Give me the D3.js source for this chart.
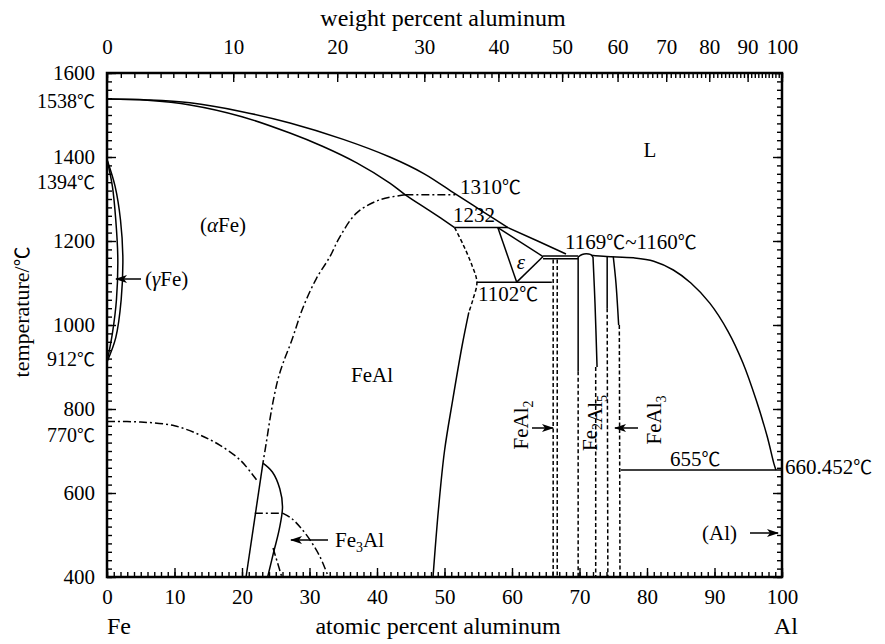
<!DOCTYPE html>
<html>
<head>
<meta charset="utf-8">
<script src="https://cdn.jsdelivr.net/npm/d3@7"></script>
<style>
body { margin: 0; background: #fff; }
text { font-family: "Liberation Serif", "Noto Sans CJK SC", serif; fill: #000; }
.deg { font-family: "Noto Sans CJK SC", sans-serif; font-size: 0.9em; }
</style>
</head>
<body>
<svg id="chart" width="885" height="644"></svg>
<script>
// FE-AL PHASE DIAGRAM

// tick labels
let atTicks = [0, 10, 20, 30, 40, 50, 60, 70, 80, 90, 100];
let wtTicks = [0, 10, 20, 30, 40, 50, 60, 70, 80, 90, 100];
let tempTicks = [400, 600, 800, 1000, 1200, 1400, 1600];
let specialTemps = [1538, 1394, 912, 770];

// boundaries, [atomic % Al, temperature C]
let liquidusFe = [[0,1538],[6,1536],[12.3,1529],[20,1508],[27.1,1481],[35,1442],[41.9,1400],[47,1360],[51.6,1312],[55.5,1272],[59.4,1232]];
let liquidusMid = [[59.4,1232],[63.8,1200],[68,1169]];
let solidusFe = [[0,1538],[6,1535],[12.3,1524],[20,1496],[27.1,1457],[32,1425],[37,1386],[41.9,1338],[44.2,1310],[48,1270],[51.5,1232]];
let peritectic1232 = [[51.5,1232],[59.4,1232]];
let eutectoid1102 = [[54.8,1102],[65.9,1102]];
let epsilonLeft = [[57.9,1232],[60.7,1102]];
let epsilonRight = [[60.7,1102],[64.6,1163]];
let epsilonTop = [[57.9,1232],[64.6,1163]];
let eutectic1163 = [[64.6,1164],[69.8,1164]];
let eutectic1157 = [[64.6,1158],[69.8,1158]];
let fe2al5Dome = [[69.8,1162],[70.4,1168],[71,1169.5],[71.6,1168],[72,1162]];
let fe2al5Left = [[69.8,1162],[69.8,890]];
let fe2al5Right = [[72,1162],[72.3,1050],[72.6,900]];
let liquidusAl = [[71.7,1166],[74,1163],[78,1160],[81,1152],[83.9,1131],[86.5,1100],[89.3,1052],[92,985],[94.2,910],[96.2,820],[97.8,735],[98.8,670],[99.1,655]];
let feal3Left = [[74.1,1163],[74.1,1040]];
let feal3Right = [[75,1163],[75.4,1100],[75.8,1000]];
let eutectic655 = [[76.1,655],[100,655]];
let fealRightSolid = [[53.6,1030],[52.6,950],[51.2,820],[50,700],[49.1,560],[48.3,400]];
let fe3alLeft = [[20.6,400],[23.1,671]];
let fe3alRight = [[23.1,671],[24.5,650],[25.6,610],[26,567],[25.5,512],[24.7,460],[23.8,400]];
let gammaOuter = [[0,1394],[1.2,1330],[2,1250],[2.35,1160],[2.1,1060],[1.3,970],[0,912]];
let gammaInner = [[0,1394],[0.8,1330],[1.3,1250],[1.6,1160],[1.4,1060],[0.8,980],[0,912]];

// dashed boundaries
let fealRightDashed = [[51.5,1232],[52.8,1190],[54,1145],[54.8,1102],[54.2,1060],[53.6,1030]];
let feal2Left = [[66.1,1156],[66.1,400]];
let feal2Right = [[66.7,1156],[66.7,400]];
let fe2al5LeftLow = [[69.8,890],[69.8,400]];
let fe2al5RightLow = [[72.4,900],[72.4,400]];
let feal3LeftLow = [[74.1,1040],[74.2,400]];
let feal3RightLow = [[75.9,1000],[76,400]];

// dash-dot (ordering / magnetic) lines
let tie1310 = [[44.2,1310],[51.6,1310]];
let orderA2B2 = [[44.2,1310],[40.4,1298],[37,1267],[34.5,1210],[33,1162],[31,1110],[29,1040],[27.3,960],[26.1,910],[25.3,869],[24.4,800],[23.6,720],[23.1,671]];
let curie = [[0,770],[5,769],[10,760],[13.8,738],[16.7,714],[19.7,679],[21.6,643],[22.4,626]];
let d03Line = [[21.9,552],[26,552]];
let d03B2 = [[26,552],[27.3,540],[28.6,519],[30,490],[31.5,450],[32.8,400]];
let d03Short = [[24.6,469],[25.9,400]];

let w = 885;
let h = 644;
let svg = d3.select("#chart");

let x = d3.scaleLinear().domain([0, 100]).range([107, 782]);
let y = d3.scaleLinear().domain([400, 1600]).range([577, 73]);

function wtToAt(wt) {
    if (wt <= 0) return 0;
    if (wt >= 100) return 100;
    let al = wt / 26.98;
    let fe = (100 - wt) / 55.845;
    return 100 * al / (al + fe);
}

let fontSize = "21px";
let titleSize = "24px";

function cleanAxis(g) {
    g.select(".domain").remove();
    g.attr("font-family", null).style("font-size", fontSize);
    g.selectAll("line").attr("stroke", "#000").attr("stroke-width", 1.4);
}

// write text, putting the degree sign in a wider font
function fillText(sel, txt) {
    txt.split(/(℃)/).forEach(part => {
        if (part === "") return;
        let t = sel.append("tspan").text(part);
        if (part === "℃") t.attr("class", "deg");
    });
    return sel;
}

// bottom axis, atomic percent
svg.append("g")
    .attr("transform", "translate(0," + y(400) + ")")
    .call(d3.axisBottom(x).tickValues(d3.range(0, 101, 1)).tickSize(-5).tickFormat(""))
    .call(cleanAxis);
svg.append("g")
    .attr("transform", "translate(0," + y(400) + ")")
    .call(d3.axisBottom(x).tickValues(atTicks).tickSize(-9).tickPadding(12).tickFormat(d => d))
    .call(cleanAxis);

// top axis, weight percent
svg.append("g")
    .attr("transform", "translate(0," + y(1600) + ")")
    .call(d3.axisTop(x).tickValues(d3.range(0, 101, 1).map(wtToAt)).tickSize(-5).tickFormat(""))
    .call(cleanAxis);
svg.append("g")
    .attr("transform", "translate(0," + y(1600) + ")")
    .call(d3.axisTop(x).tickValues(wtTicks.map(wtToAt)).tickSize(-9).tickPadding(19).tickFormat((d, i) => wtTicks[i]))
    .call(cleanAxis);

// left and right temperature axes
svg.append("g")
    .attr("transform", "translate(" + x(0) + ",0)")
    .call(d3.axisLeft(y).tickValues(d3.range(400, 1601, 20)).tickSize(-5).tickFormat(""))
    .call(cleanAxis);
svg.append("g")
    .attr("transform", "translate(" + x(0) + ",0)")
    .call(d3.axisLeft(y).tickValues(tempTicks).tickSize(-9).tickPadding(12).tickFormat(d => d))
    .call(cleanAxis);
svg.append("g")
    .attr("transform", "translate(" + x(100) + ",0)")
    .call(d3.axisRight(y).tickValues(d3.range(400, 1601, 20)).tickSize(-5).tickFormat(""))
    .call(cleanAxis);
svg.append("g")
    .attr("transform", "translate(" + x(100) + ",0)")
    .call(d3.axisRight(y).tickValues(tempTicks).tickSize(-9).tickFormat(""))
    .call(cleanAxis);

// special temperatures on the left
let specialShift = {1538: 3, 1394: 23, 912: -2, 770: 14};
svg.append("g").selectAll("text")
    .data(specialTemps)
    .enter()
    .append("text")
    .attr("x", x(0) - 12)
    .attr("y", d => y(d) + specialShift[d])
    .attr("dy", "0.32em")
    .attr("text-anchor", "end")
    .style("font-size", "20px")
    .each(function(d) { fillText(d3.select(this), d + "℃"); });

// frame
svg.append("rect")
    .attr("x", x(0))
    .attr("y", y(1600))
    .attr("width", x(100) - x(0))
    .attr("height", y(400) - y(1600))
    .attr("fill", "none")
    .attr("stroke", "#000")
    .attr("stroke-width", 2.5);

// phase boundaries
let smooth = d3.line().x(d => x(d[0])).y(d => y(d[1])).curve(d3.curveCatmullRom.alpha(0.5));
let straight = d3.line().x(d => x(d[0])).y(d => y(d[1]));

let lines = svg.append("g").attr("class", "boundaries");

function draw(points, curved, dash) {
    lines.append("path")
        .attr("d", curved ? smooth(points) : straight(points))
        .attr("fill", "none")
        .attr("stroke", "#000")
        .attr("stroke-width", 1.5)
        .attr("stroke-dasharray", dash || null);
}

let dashed = "4,2.5";
let dashDot = "8,3,2,3";

draw(liquidusFe, true);
draw(liquidusMid, false);
draw(solidusFe, true);
draw(peritectic1232, false);
draw(eutectoid1102, false);
draw(epsilonLeft, false);
draw(epsilonRight, false);
draw(epsilonTop, false);
draw(eutectic1163, false);
draw(eutectic1157, false);
draw(fe2al5Dome, true);
draw(fe2al5Left, false);
draw(fe2al5Right, true);
draw(liquidusAl, true);
draw(feal3Left, false);
draw(feal3Right, true);
draw(eutectic655, false);
draw(fealRightSolid, true);
draw(fe3alLeft, false);
draw(fe3alRight, true);
draw(gammaOuter, true);
draw(gammaInner, true);

draw(fealRightDashed, true, dashed);
draw(feal2Left, false, dashed);
draw(feal2Right, false, dashed);
draw(fe2al5LeftLow, false, dashed);
draw(fe2al5RightLow, false, dashed);
draw(feal3LeftLow, false, dashed);
draw(feal3RightLow, false, dashed);

draw(tie1310, false, dashDot);
draw(orderA2B2, true, dashDot);
draw(curie, true, dashDot);
draw(d03Line, false, dashDot);
draw(d03B2, true, dashDot);
draw(d03Short, false, dashDot);

// arrow marker
svg.append("defs").append("marker")
    .attr("id", "arrow")
    .attr("viewBox", "0 0 12 8")
    .attr("refX", 11)
    .attr("refY", 4)
    .attr("markerWidth", 12)
    .attr("markerHeight", 8)
    .attr("markerUnits", "userSpaceOnUse")
    .attr("orient", "auto")
    .append("path")
    .attr("d", "M0,0 L12,4 L0,8 L3,4 Z")
    .attr("fill", "#000");

function arrow(x1, y1, x2, y2) {
    svg.append("line")
        .attr("x1", x1).attr("y1", y1)
        .attr("x2", x2).attr("y2", y2)
        .attr("stroke", "#000")
        .attr("stroke-width", 1.5)
        .attr("marker-end", "url(#arrow)");
}

function label(txt, px, py, anchor, size) {
    let t = svg.append("text")
        .attr("x", px)
        .attr("y", py)
        .attr("dy", "0.35em")
        .attr("text-anchor", anchor || "start")
        .style("font-size", size || fontSize);
    return fillText(t, txt);
}

// axis titles
label("weight percent aluminum", 443, 18, "middle", titleSize);
label("atomic percent aluminum", 438, 626, "middle", titleSize);
label("Fe", 119, 626, "middle", titleSize);
label("Al", 786, 626, "middle", titleSize);
let ytitle = svg.append("text")
    .attr("transform", "translate(21,312) rotate(-90)")
    .attr("dy", "0.35em")
    .attr("text-anchor", "middle")
    .style("font-size", "22px");
fillText(ytitle, "temperature/℃");

// phase labels
let alpha = label("(", 223, 225, "middle");
alpha.append("tspan").style("font-style", "italic").text("α");
alpha.append("tspan").text("Fe)");

label("L", 650, 150, "middle");
label("1310℃", 460, 187);
label("1232", 453, 215);
label("ε", 521, 262, "middle").style("font-style", "italic");
label("1102℃", 478, 294);
label("1169℃~1160℃", 565, 242);
label("FeAl", 372, 375, "middle");
label("655℃", 670, 459);
label("660.452℃", 785, 467);

let gamma = label("(", 145, 279);
gamma.append("tspan").style("font-style", "italic").text("γ");
gamma.append("tspan").text("Fe)");
arrow(141, 279, 116, 279);

label("(Al)", 702, 533);
arrow(750, 533, 778, 533);

let fe3al = label("Fe", 335, 540);
fe3al.append("tspan").attr("dy", 5).style("font-size", "14px").text("3");
fe3al.append("tspan").attr("dy", -5).text("Al");
arrow(328, 540, 291, 540);

function rotated(parts, cx, cy) {
    let t = svg.append("text")
        .attr("transform", "translate(" + cx + "," + cy + ") rotate(-90)")
        .attr("dy", "0.35em")
        .attr("text-anchor", "middle")
        .style("font-size", fontSize);
    parts.forEach(p => {
        if (p.sub) {
            t.append("tspan").attr("dy", 5).style("font-size", "14px").text(p.text);
            t.append("tspan").attr("dy", -5).text("");
        } else {
            t.append("tspan").text(p.text);
        }
    });
}

rotated([{text: "FeAl"}, {text: "2", sub: true}], 521, 425);
arrow(532, 428, 553, 428);
rotated([{text: "Fe"}, {text: "2", sub: true}, {text: "Al"}, {text: "5", sub: true}], 590, 423);
rotated([{text: "FeAl"}, {text: "3", sub: true}], 654, 420);
arrow(638, 428, 615, 428);
</script>
</body>
</html>
